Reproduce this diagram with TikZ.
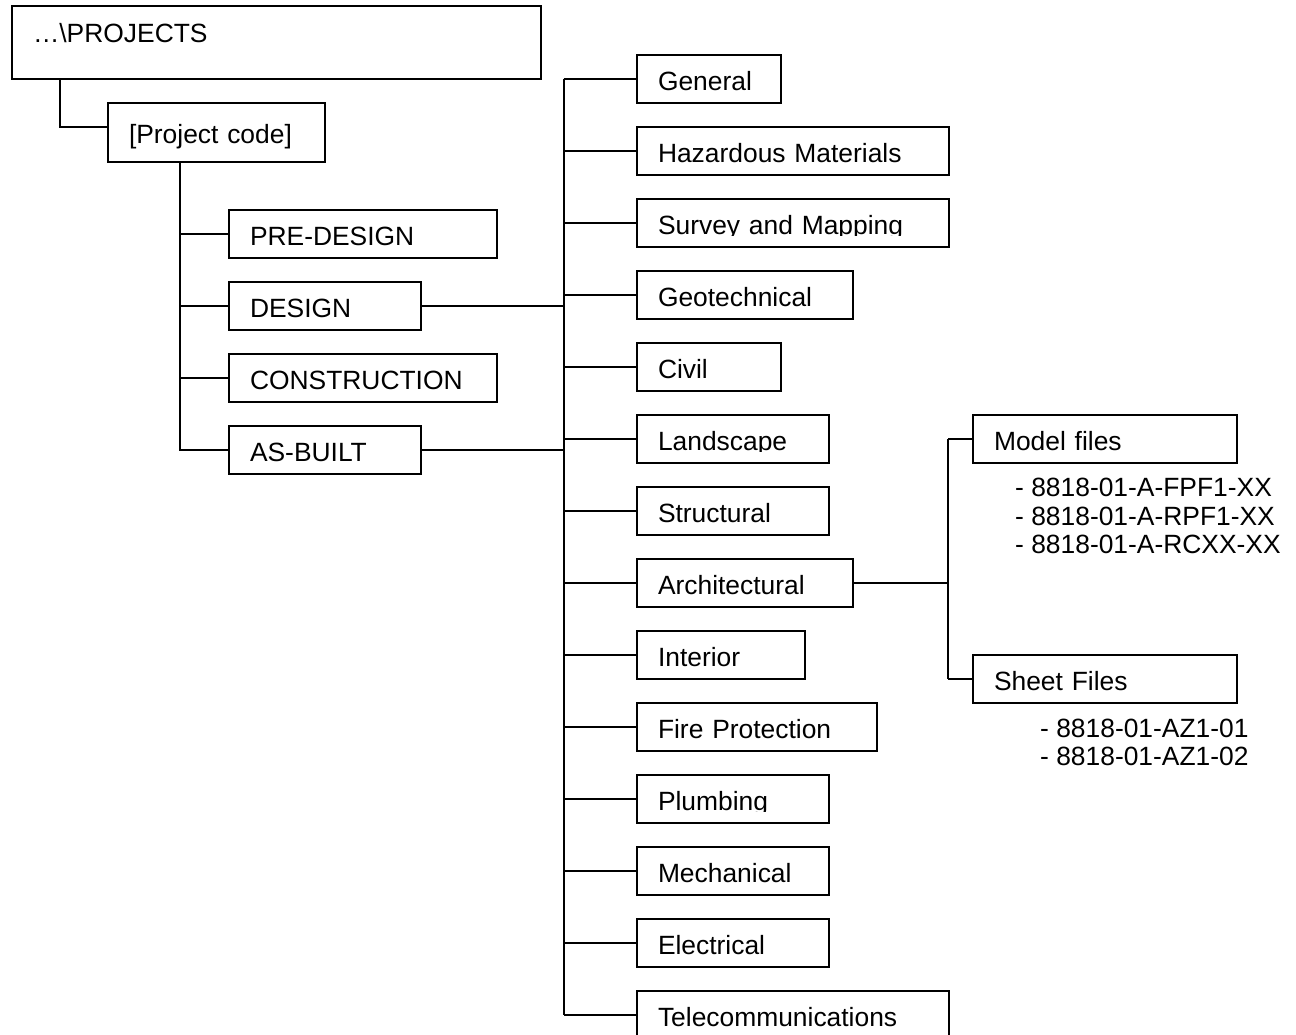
\documentclass[tikz,border=0pt]{standalone}
\usepackage{fontspec}
\setmainfont{Liberation Sans}
\newcommand\dfont{\fontsize{26.4}{28.3}\selectfont}
\tikzset{
  dirbox/.style={draw=black, line width=2pt, anchor=north west, minimum height=48pt,
    inner xsep=21pt, inner ysep=0pt, text width=#1, align=left,
    text height=23pt, text depth=0pt, font=\dfont},
  link/.style={draw=black, line width=2pt},
  listtext/.style={anchor=base west, inner sep=0pt, align=left, font=\dfont}
}
\begin{document}
\begin{tikzpicture}[x=1pt,y=-1pt]
\path[use as bounding box] (0,0) rectangle (1296,1034);
\clip (0,0) rectangle (1296,1034);

% root and project
\node[dirbox=487pt, minimum height=73pt, text height=13pt, text depth=13pt] (root) at (11,5) {…\textbackslash PROJECTS};
\node[dirbox=175pt, minimum height=59.5pt] (pc) at (107,101.5) {[Project code]};

% stages
\node[dirbox=226pt] (pre) at (228,209) {PRE-DESIGN};
\node[dirbox=150pt] (des) at (228,281) {DESIGN};
\node[dirbox=226pt] (con) at (228,353) {CONSTRUCTION};
\node[dirbox=150pt] (asb) at (228,425) {AS-BUILT};

% disciplines
\node[dirbox=102pt] (gen) at (636,53.5) {General};
\node[dirbox=270pt] (haz) at (636,125.5) {Hazardous Materials};
\node[dirbox=270pt] (sur) at (636,197.5) {};
\node[dirbox=174pt] (geo) at (636,269.5) {Geotechnical};
\node[dirbox=102pt] (civ) at (636,341.5) {Civil};
\node[dirbox=150pt] (lan) at (636,413.5) {};
\node[dirbox=150pt] (str) at (636,485.5) {Structural};
\node[dirbox=174pt] (arc) at (636,557.5) {Architectural};
\node[dirbox=126pt] (int) at (636,629.5) {Interior};
\node[dirbox=198pt] (fir) at (636,701.5) {Fire Protection};
\node[dirbox=150pt] (plu) at (636,773.5) {};
\node[dirbox=150pt] (mec) at (636,845.5) {Mechanical};
\node[dirbox=150pt] (ele) at (636,917.5) {Electrical};
\node[dirbox=270pt] (tel) at (636,989.5) {Telecommunications};

% clipped labels (descenders cut as in the original)
\begin{scope}
  \clip (sur.north west) rectangle ([yshift=-13pt]sur.east);
  \node[dirbox=270pt, draw=none] (sur-t) at (636,197.5) {Survey and Mapping};
\end{scope}
\begin{scope}
  \clip (lan.north west) rectangle ([yshift=-13pt]lan.east);
  \node[dirbox=150pt, draw=none] (lan-t) at (636,413.5) {Landscape};
\end{scope}
\begin{scope}
  \clip (plu.north west) rectangle ([yshift=-13pt]plu.east);
  \node[dirbox=150pt, draw=none] (plu-t) at (636,773.5) {Plumbing};
\end{scope}

% architectural sub-folders
\node[dirbox=222pt] (mod) at (972,413.5) {Model files};
\node[dirbox=222pt] (she) at (972,653.5) {Sheet Files};
% anchor = baseline of the last line
\node[listtext] (mlist) at (1015,553.3) {- 8818-01-A-FPF1-XX\\- 8818-01-A-RPF1-XX\\- 8818-01-A-RCXX-XX};
\node[listtext] (slist) at (1040,765.5) {- 8818-01-AZ1-01\\- 8818-01-AZ1-02};

% connectors: root -> project
\draw[link] (root.south west) ++(49,0) |- ([yshift=5.5pt]pc.west);

% project -> stages
\draw[link] (pc.south west) ++(73,0) coordinate (sv) |- (asb.west);
\draw[link] (sv |- pre.west) -- (pre.west);
\draw[link] (sv |- des.west) -- (des.west);
\draw[link] (sv |- con.west) -- (con.west);

% trunk for disciplines
\coordinate (tr) at (563.5,0);
\draw[link] (tr |- gen.west) -- (tr |- tel.west);
\draw[link] (des.east) -- (tr |- des.east);
\draw[link] (asb.east) -- (tr |- asb.east);
\foreach \n in {gen,haz,sur,geo,civ,lan,str,arc,int,fir,plu,mec,ele,tel}{
  \draw[link] (tr |- \n.west) -- (\n.west);
}

% architectural branch
\coordinate (ab) at (948,0);
\draw[link] (arc.east) -- (ab |- arc.east);
\draw[link] (ab |- mod.west) -- (ab |- she.west);
\draw[link] (ab |- mod.west) -- (mod.west);
\draw[link] (ab |- she.west) -- (she.west);
\end{tikzpicture}
\end{document}
